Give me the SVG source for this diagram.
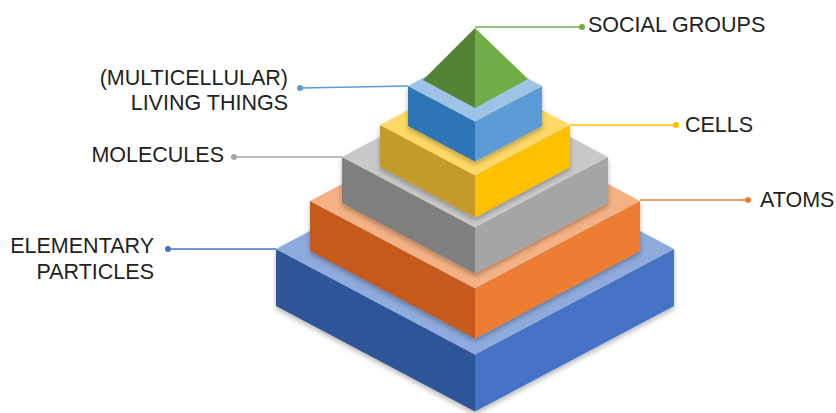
<svg xmlns="http://www.w3.org/2000/svg" width="836" height="413" viewBox="0 0 836 413">
  <defs>
    <filter id="sh" x="-20%" y="-20%" width="140%" height="140%">
      <feDropShadow dx="0" dy="3" stdDeviation="2.5" flood-color="#000" flood-opacity="0.28"/>
    </filter>
  </defs>
  <style>
    .lbl { font-family: "Liberation Sans", Arial, Helvetica, sans-serif; font-size: 21.5px; fill: #231f20; }
    .r { text-anchor: end; }
    .ln { fill: none; stroke-width: 1.6; }
  </style>
  <rect width="836" height="413" fill="#ffffff"/>

  <g id="elementary-particles" filter="url(#sh)">
    <polygon points="276,249 475,354.5 475,411.5 276,306" fill="#2f5597"/>
    <polygon points="475,354.5 674,249 674,306 475,411.5" fill="#4472c4"/>
    <polygon points="276,249 475,143.5 674,249 475,354.5" fill="#8faadc"/>
  </g>
  <g id="atoms" filter="url(#sh)">
    <polygon points="310,201 475,288.5 475,338.5 310,251" fill="#c55a1d"/>
    <polygon points="475,288.5 640,201 640,251 475,338.5" fill="#ed7d31"/>
    <polygon points="310,201 475,113.5 640,201 475,288.5" fill="#f4b183"/>
  </g>
  <g id="molecules" filter="url(#sh)">
    <polygon points="342,157 475,227.5 475,273.5 342,203" fill="#7f7f7f"/>
    <polygon points="475,227.5 608,157 608,203 475,273.5" fill="#a5a5a5"/>
    <polygon points="342,157 475,86.5 608,157 475,227.5" fill="#c9c9c9"/>
  </g>
  <g id="cells" filter="url(#sh)">
    <polygon points="380,125 475,175.4 475,217.4 380,167" fill="#c49a2c"/>
    <polygon points="475,175.4 570,125 570,167 475,217.4" fill="#ffc000"/>
    <polygon points="380,125 475,74.6 570,125 475,175.4" fill="#ffd966"/>
  </g>
  <g id="living-things" filter="url(#sh)">
    <polygon points="408,86 475,121.5 475,161.5 408,126" fill="#2e75b6"/>
    <polygon points="475,121.5 542,86 542,126 475,161.5" fill="#5b9bd5"/>
    <polygon points="408,86 475,50.5 542,86 475,121.5" fill="#9dc3e6"/>
  </g>
  <g id="social-groups">
    <polygon points="475,28 423,80 475,108" fill="#548235"/>
    <polygon points="475,28 475,108 528,79" fill="#70ad47"/>
  </g>

  <g id="connectors">
    <polyline class="ln" points="475,27 582,27" stroke="#70ad47"/>
    <circle cx="582" cy="27" r="3" fill="#70ad47"/>
    <polyline class="ln" points="300,88 408,86" stroke="#5b9bd5"/>
    <circle cx="300" cy="88" r="3" fill="#5b9bd5"/>
    <polyline class="ln" points="234,157 342,157" stroke="#a5a5a5"/>
    <circle cx="234" cy="157" r="3" fill="#a5a5a5"/>
    <polyline class="ln" points="570,125 676,125" stroke="#ffc000"/>
    <circle cx="676" cy="125" r="3" fill="#ffc000"/>
    <polyline class="ln" points="640,200 748,200" stroke="#ed7d31"/>
    <circle cx="748" cy="200" r="3" fill="#ed7d31"/>
    <polyline class="ln" points="168,249 276,249" stroke="#4472c4"/>
    <circle cx="168" cy="249" r="3" fill="#4472c4"/>
  </g>

  <g id="labels">
    <text class="lbl" x="588" y="32">SOCIAL GROUPS</text>
    <text class="lbl r" x="288" y="85">(MULTICELLULAR)</text>
    <text class="lbl r" x="288" y="110">LIVING THINGS</text>
    <text class="lbl r" x="224" y="162">MOLECULES</text>
    <text class="lbl" x="685" y="132">CELLS</text>
    <text class="lbl" x="760" y="207">ATOMS</text>
    <text class="lbl r" x="154" y="253">ELEMENTARY</text>
    <text class="lbl r" x="154" y="279">PARTICLES</text>
  </g>
</svg>
